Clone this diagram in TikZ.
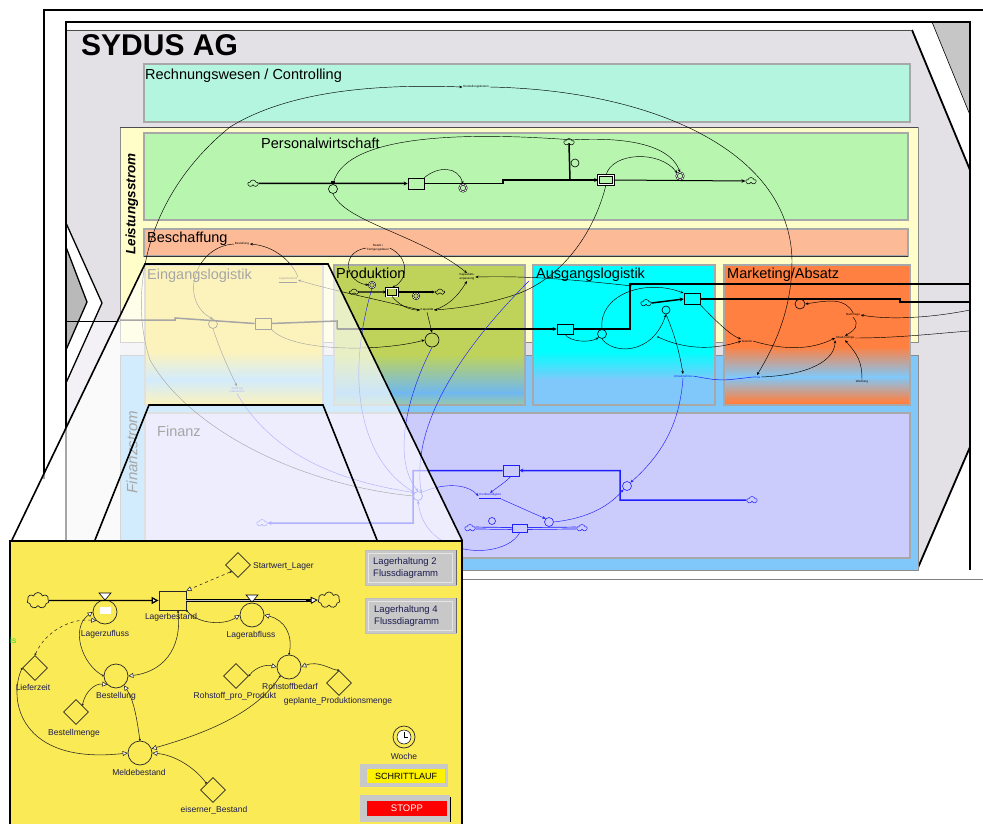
\documentclass[tikz,border=0pt]{standalone}
\usepackage{fontspec}
\setmainfont{Liberation Sans}
\usetikzlibrary{arrows.meta,shapes.geometric,shapes.symbols}
\definecolor{wallg}{HTML}{E4E1E6}
\definecolor{walll}{HTML}{F3F1F5}
\definecolor{rwc}{HTML}{B3F5DE}
\definecolor{lsc}{HTML}{FFFDC8}
\definecolor{pwc}{HTML}{B8F6B0}
\definecolor{bsc}{HTML}{FDBA96}
\definecolor{fsc}{HTML}{80C8FA}
\definecolor{fic}{HTML}{CCCCFC}
\definecolor{elc}{HTML}{F8DC40}
\definecolor{prc}{HTML}{BFD35A}
\definecolor{prb}{HTML}{70B8F0}
\definecolor{prg}{HTML}{98C8A8}
\definecolor{alc}{HTML}{00FFFF}
\definecolor{mkc}{HTML}{FF8040}
\definecolor{sdblue}{HTML}{1E1EFF}
\definecolor{ypan}{HTML}{FAEA55}
\definecolor{ytext}{HTML}{1C1C50}
\definecolor{btn}{HTML}{C8C8C8}
\definecolor{pborder}{HTML}{A8A8A8}
\definecolor{isgreen}{HTML}{20E040}
\begin{document}
\begin{tikzpicture}[x=1pt,y=-1pt,
  lbl/.style={font=\fontsize{14.5}{16}\selectfont, anchor=base west, inner sep=0pt},
  fl/.style={line width=1.5pt},
  flb/.style={line width=1.5pt, draw=sdblue},
  cn/.style={line width=0.45pt, -{Stealth[length=3.2pt,width=2.6pt]}},
  cnb/.style={cn, draw=sdblue},
  vl/.style={circle, draw, line width=0.6pt, minimum size=9pt, inner sep=0pt},
  sk/.style={rectangle, draw, line width=0.7pt, minimum width=16pt, minimum height=11pt, inner sep=0pt},
  cl/.style={cloud, cloud puffs=5, aspect=1.3, draw, line width=0.5pt, minimum width=10pt, minimum height=7pt, inner sep=0pt},
  tl/.style={font=\fontsize{3}{3.6}\selectfont, inner sep=0.6pt, align=center},
  ytx/.style={font=\fontsize{8.5}{10}\selectfont, text=ytext, inner sep=0pt},
  yvl/.style={circle, draw=black!85, line width=0.7pt, minimum size=24pt, inner sep=0pt},
  ydia/.style={diamond, draw=black!85, line width=0.7pt, minimum width=25pt, minimum height=25pt, inner sep=0pt},
  ycl/.style={cloud, cloud puffs=7, aspect=1.4, draw=black!85, line width=0.7pt, minimum width=22pt, minimum height=16pt, inner sep=0pt},
  yc/.style={line width=0.55pt, draw=black!85, {Circle[length=2pt]}-{Triangle[fill=white,length=5pt,width=5pt]}},
  btxt/.style={font=\fontsize{9.5}{12}\selectfont, text=ytext, inner sep=0pt, align=left, anchor=west}
]
\useasboundingbox (0,0) rectangle (983,824);
\fill[white] (0,0) rectangle (983,824);
% ---------- room ----------
\fill[wallg] (66,30) -- (912,30) -- (970,170) -- (970,447) -- (917,570) -- (66,570) -- cycle;
\fill[walll] (66,321) rectangle (120,570);
\fill[white] (66,223) -- (102,303) -- (66,383) -- cycle;
\fill[gray!55] (66,247) -- (87,302) -- (66,350) -- cycle;
\draw[line width=1.3pt] (66,223) -- (102,303) -- (66,383);
\draw[line width=1.3pt] (66,247) -- (87,302) -- (66,350);
\fill[gray!45] (932,22) -- (970,22) -- (970,115) -- cycle;
\draw[line width=0.6pt] (932,22) -- (970,115);
\draw[line width=1.8pt] (912,30) -- (970,170);
\draw[line width=1.8pt] (917,570) -- (970,447);
\draw[line width=0.7pt, black!70] (66,30) -- (912,30);
\draw[line width=1.8pt] (44,479) -- (44,10) -- (983,10);
\draw[line width=1.2pt] (66,540) -- (66,22) -- (970,22) -- (970,570);
\draw[line width=0.8pt, gray] (462,579) -- (983,579);
\draw[line width=0.8pt] (66,321) -- (120,321);
% ---------- title ----------
\node[font=\bfseries\fontsize{30}{32}\selectfont, anchor=west, inner sep=0pt] (title) at (81,45) {SYDUS AG};
% ---------- panels ----------
\draw[pborder, fill=rwc, line width=1.2pt] (144,64) rectangle (910,122);
\node[lbl] (rwl) at (145,80) {Rechnungswesen / Controlling};
\draw[black!45, fill=lsc, line width=0.8pt] (120,127) rectangle (918,342);
\draw[black!70, line width=0.8pt] (120,127) -- (918,127);
\draw[pborder, fill=pwc, line width=1.2pt] (144,133) rectangle (908,220);
\node[lbl] (pwl) at (261,149) {Personalwirtschaft};
\draw[pborder, fill=bsc, line width=1.2pt] (144,229) rectangle (908,256);
\draw[black!80, line width=0.8pt] (144,256) -- (908,256);
\node[lbl] (bsl) at (147,242) {Beschaffung};
\node[font=\bfseries\itshape\fontsize{13.5}{15}\selectfont, rotate=90, inner sep=0pt] (lsl) at (132,204) {Leistungsstrom};
\draw[black!45, fill=fsc, line width=0.8pt] (120,355) rectangle (918,570);
\draw[pborder, fill=fic, line width=1.5pt] (145,413) rectangle (910,558);
\node[lbl] (fil) at (157,436) {Finanz};
\node[font=\itshape\fontsize{15}{17}\selectfont, rotate=90, inner sep=0pt] (fsl) at (132,452) {Finanzstrom};
% Eingangslogistik
\fill[elc] (145,265) rectangle (323,352);
\shade[top color=elc, bottom color=fsc] (145,351.5) rectangle (323,380);
\shade[top color=fsc, bottom color=elc] (145,379.5) rectangle (323,405);
\draw[pborder, line width=1.2pt] (145,265) rectangle (323,405);
\node[lbl] (ell) at (147,279) {Eingangslogistik};
% Produktion
\fill[prc] (334,265) rectangle (525,355);
\shade[top color=prc, bottom color=prb] (334,354.5) rectangle (525,393);
\shade[top color=prb, bottom color=prg] (334,392.5) rectangle (525,405);
\draw[pborder, line width=1.2pt] (334,265) rectangle (525,405);
\node[lbl] (prl) at (336,278) {Produktion};
% Ausgangslogistik
\fill[alc] (533,265) rectangle (715,352);
\shade[top color=alc, bottom color=fsc] (533,351.5) rectangle (715,380);
\fill[fsc] (533,379.5) rectangle (715,405);
\draw[pborder, line width=1.2pt] (533,265) rectangle (715,405);
\node[lbl] (all) at (536,278) {Ausgangslogistik};
% Marketing
\fill[mkc] (724,265) rectangle (910,347);
\shade[top color=mkc, bottom color=fsc] (724,346.5) rectangle (910,377);
\shade[top color=fsc, bottom color=mkc] (724,376.5) rectangle (910,402);
\fill[mkc] (724,401.5) rectangle (910,405);
\draw[pborder, line width=1.2pt] (724,265) rectangle (910,405);
\node[lbl] (mkl) at (727,278) {Marketing/Absatz};
% ---------- Rechnungswesen ----------
\node[tl] (rw) at (476,87) {Herstellungskosten};
% ---------- Personalwirtschaft ----------
\node[cl] (pwc1) at (253,183.5) {};
\node[sk] (pws1) at (416,183.5) {};
\node[vl] (pwv1) at (333,189) {};
\fill (331,181.5) rectangle (335,184.5);
\node[vl, double, double distance=0.7pt, minimum size=7pt] (pwv2) at (463,188) {};
\node[cl] (pwc2) at (569,142) {};
\node[vl, minimum size=8pt] (pwv3) at (575,163) {};
\node[sk, double, double distance=1pt, minimum width=15pt, minimum height=9pt] (pws2) at (606,180) {};
\node[vl, double, double distance=0.7pt, minimum size=7pt] (pwv4) at (680,176) {};
\node[cl] (pwc3) at (751,181) {};
\draw[fl,-{Stealth[length=4pt,width=4pt]}] (pwc1.east) -- (pws1.west);
\draw[fl] (pws1.east) -- (503,183.5) -- (503,180) -- (570,180);
\draw[fl] (pwc2.south) -- (570,180);
\draw[fl,-{Stealth[length=4pt,width=4pt]}] (570,180) -- (pws2.west);
\draw[line width=1pt,-{Stealth[length=4pt,width=3.5pt]}] (pws2.east) -- (pwc3.west);
% ---------- Eingangslogistik ----------
\node[tl] (bes) at (242,244) {Bestellung};
\node[tl] (elab) at (288,280) {\underline{Lagerbestand}};
\node[sk] (els) at (263,323.5) {};
\node[vl] (elv) at (213,324) {};
\node[tl, text=sdblue] (zl) at (237,390) {Zahlung\\Lieferanten};
\draw[fl] (120,320) -- (175,320) -- (175,318) -- (els.west);
\draw[fl] (els.east) -- (337,321) -- (337,329);
% ---------- Produktion ----------
\node[tl] (bfd) at (378,248) {Bearb./\\Fertigungsdauer};
\node[cl, minimum width=9pt, minimum height=6pt] (prc1) at (354,292) {};
\node[vl, double, double distance=0.6pt, minimum size=6pt] (prv1) at (372,285) {};
\node[sk, double, double distance=0.8pt, minimum width=11pt, minimum height=8pt] (prs) at (392,292) {};
\node[vl, double, double distance=0.6pt, minimum size=6pt] (prv2) at (416,296) {};
\node[cl, minimum width=9pt, minimum height=6pt] (prc2) at (440,292) {};
\draw[line width=1.1pt,-{Stealth[length=3pt,width=3pt]}] (prc1.east) -- (prs.west);
\draw[line width=1.1pt,-{Stealth[length=3pt,width=3pt]}] (prs.east) -- (prc2.west);
\node[vl, minimum size=14pt] (prbig) at (432,340) {};
\node[tl] (kap) at (427,310) {Kapazität};
\node[tl] (kapanp) at (467,277) {Kapazitäts-\\anpassung};
% ---------- Ausgangslogistik / Marketing ----------
\node[sk, minimum height=10pt] (als1) at (565,329) {};
\node[vl] (alv1) at (602,334) {};
\node[cl] (alc1) at (646,303) {};
\node[vl, minimum size=8pt] (alv2) at (666,310) {};
\node[sk] (als2) at (692,299) {};
\node[vl, minimum size=10pt] (mkv) at (800,304) {};
\node[tl, text=sdblue] (ums) at (683,376) {Umsatzerlöse};
\node[tl, text=sdblue] (preis) at (757,377) {Preis};
\node[tl] (gew) at (747,341) {Gewinn};
\node[tl] (absm) at (845,338) {Absatzmenge};
\node[tl] (nach) at (853,315) {Nachfrage};
\node[tl] (werb) at (862,382) {Werbung};
\draw[fl,-{Stealth[length=4pt,width=4pt]}] (337,329) -- (als1.west);
\draw[fl] (als1.east) -- (630,329) -- (630,284) -- (970,284);
\draw[fl,-{Stealth[length=4pt,width=4pt]}] (alc1.east) -- (als2.west);
\draw[fl] (als2.east) -- (900,299) -- (900,302) -- (970,302);
% ---------- Finanz ----------
\node[vl, draw=sdblue] (fiv1) at (418,496) {};
\node[cl, draw=sdblue] (fic1) at (262,523) {};
\node[sk, draw=sdblue] (fis1) at (511,470.5) {};
\node[vl, draw=sdblue] (fiv2) at (627,486) {};
\node[cl, draw=sdblue] (fic2) at (752,500) {};
\node[cl, draw=sdblue] (fic3) at (470,528) {};
\node[vl, draw=sdblue, minimum size=7pt] (fiv3) at (492,521) {};
\node[sk, draw=sdblue, minimum width=15pt, minimum height=8pt] (fis2) at (519.5,528.5) {};
\node[vl, draw=sdblue] (fiv4) at (549,522) {};
\node[cl, draw=sdblue] (fic4) at (582,528) {};
\node[tl, text=sdblue] (kred) at (490,496) {\underline{Kreditwürdigkeit}};
\draw[flb,-{Stealth[length=4pt,width=4pt]}] (fic2.west) -- (620,500) -- (620,470.5) -- (fis1.east);
\draw[flb,-{Stealth[length=4pt,width=4pt]}] (fis1.west) -- (413,470.5) -- (413,523) -- (fic1.east);
\draw[sdblue, line width=0.7pt, double=fic, double distance=1.2pt] (fic3.east) -- (fis2.west);
\draw[sdblue, line width=0.7pt, double=fic, double distance=1.2pt] (fis2.east) -- (fic4.west);
% ---------- connectors (black) ----------
\draw[cn] (pwc2.north east) .. controls (440,130) and (345,140) .. (pwv1.north);
\draw[cn] (pwc2.north east) .. controls (640,136) and (672,150) .. (pwv4.north);
\draw[cn] (pws1.north east) .. controls (438,166) and (458,166) .. (pwv2.north);
\draw[cn] (pws2.north) .. controls (612,152) and (660,150) .. (pwv4.north west);
\draw[cn] (pwv1.south) .. controls (345,222) and (420,235) .. (kapanp.north);
\draw[cn] (pws2.south) .. controls (595,230) and (565,275) .. (520,293) .. controls (495,302) and (465,308) .. (kap.east);
\draw[cn] (rw.east) .. controls (650,90) and (790,150) .. (792,260) .. controls (792,310) and (775,345) .. (preis.north);
\draw[cn] (fiv1.west) .. controls (300,485) and (190,430) .. (150,360) .. controls (130,300) and (140,200) .. (230,127) .. controls (290,90) and (380,84) .. (rw.west);
\draw[cn] (elab.north east) .. controls (292,262) and (275,246) .. (bes.east);
\draw[cn] (bes.west) .. controls (195,246) and (178,300) .. (elv.north);
\draw[cn] (elv.south) .. controls (220,350) and (228,368) .. (zl.north);
\draw[cn] (els.south east) .. controls (292,352) and (380,352) .. (prbig.west);
\draw[cn] (bfd.west) .. controls (340,252) and (345,282) .. (prv1.west);
\draw[cn] (bfd.east) .. controls (410,258) and (408,280) .. (prs.north);
\draw[cn] (prs.south) .. controls (398,304) and (408,310) .. (kap.west);
\draw[cn] (kap.east) .. controls (448,306) and (458,296) .. (kapanp.south);
\draw[cn] (kap.south) -- (prbig.north);
\draw[cn] (kap.west) .. controls (380,300) and (330,290) .. (elab.east);
\coordinate (alsrc) at (632,286);
\draw[cn] (alsrc) .. controls (560,278) and (520,276) .. (kapanp.east);
\draw[cn] (als1.south) .. controls (570,342) and (590,343) .. (alv1.south west);
\draw[cn] (alv1.north) .. controls (598,295) and (645,278) .. (als2.north west);
\draw[cn] (alv1.south) .. controls (612,354) and (652,356) .. (alv2.south);
\draw[cn] (alv2.south) .. controls (675,335) and (680,355) .. (ums.north);
\coordinate (aldot) at (658,337);
\fill (aldot) circle (0.9);
\draw[cn] (aldot) .. controls (690,352) and (720,348) .. (gew.west);
\draw[cn] (als2.south east) .. controls (715,320) and (730,335) .. (gew.north west);
\draw[cn] (gew.east) .. controls (790,352) and (815,348) .. (absm.west);
\draw[cn] (nach.south) .. controls (860,325) and (855,330) .. (absm.north);
\draw[cn] (nach.north) .. controls (845,298) and (830,300) .. (mkv.east);
\draw[line width=0.45pt] (absm.east) .. controls (900,338) and (940,333) .. (970,331);
\coordinate (mkin) at (970,310);
\draw[cn] (mkin) .. controls (930,318) and (890,320) .. (nach.east);
\draw[cn] (preis.east) .. controls (810,375) and (835,360) .. (absm.south west);
\draw[cn] (werb.north) .. controls (862,362) and (858,355) .. (absm.south);
% ---------- connectors (blue) ----------
\draw[line width=0.5pt, sdblue] (ums.east) .. controls (720,381) .. (preis.west);
\draw[cnb] (ums.south) .. controls (680,420) and (665,452) .. (fiv2.north east);
\draw[cnb] (zl.south) .. controls (270,450) and (330,480) .. (fiv1.north west);
\draw[cnb] (prv1.south) .. controls (345,380) and (360,460) .. (fiv1.north west);
\draw[cnb] (prbig.south) .. controls (405,400) and (393,460) .. (fiv1.north);
\coordinate (blA) at (529,281);
\draw[cnb] (blA) .. controls (470,340) and (410,420) .. (fiv1.north east);
\draw[cnb] (fis2.south) .. controls (505,560) and (425,560) .. (fiv1.south);
\draw[cnb] (fiv1.north east) .. controls (440,484) and (465,482) .. (kred.west);
\draw[cnb] (fis1.south) .. controls (505,482) .. (kred.north);
\draw[cnb] (kred.south east) .. controls (515,505) and (530,512) .. (fiv4.north west);
\draw[cnb] (fiv4.east) .. controls (590,518) and (610,505) .. (fiv2.south west);
% ---------- magnifier cone ----------
\fill[white, opacity=0.65] (145,264) -- (328,264) -- (462,540) -- (12,540) -- cycle;
\draw[line width=1.6pt] (12,540) -- (145,264) -- (328,264) -- (462,540);
\draw[line width=1.6pt] (95,540) -- (149,405) -- (323,405) -- (377,540);
% ---------- yellow panel ----------
\fill[ypan] (10,541) rectangle (462,830);
\draw[line width=1.6pt] (10,830) -- (10,541) -- (462,541) -- (462,830);
\node[anchor=west, text=isgreen, font=\fontsize{8.5}{10}\selectfont, inner sep=0pt] (isx) at (10,640) {is};
\node[ycl] (yc1) at (38,600.5) {};
\node[rectangle, draw=black!85, line width=0.8pt, minimum width=27pt, minimum height=19pt, inner sep=0pt] (ys) at (172.5,600.5) {};
\node[yvl] (yv1) at (105,612) {};
\fill[white] (100,607) rectangle (111,614);
\draw[fill=white, line width=0.6pt] (99,593) -- (111,593) -- (105,600) -- cycle;
\node[yvl] (yv2) at (252,615) {};
\node[ycl] (yc2) at (329,600) {};
\draw[line width=1.3pt, -{Triangle[fill=white,length=7pt,width=7pt]}] (yc1.east) -- (ys.west);
\draw[line width=0.8pt, double=gray!45, double distance=1.6pt] (ys.east) -- (312,600.5);
\draw[line width=0.8pt, -{Triangle[fill=white,length=7pt,width=7pt]}] (306,600.5) -- (yc2.west);
\draw[fill=white, line width=0.6pt] (246,595) -- (258,595) -- (252,602) -- cycle;
\node[ydia] (ystart) at (238,565) {};
\node[yvl] (ybest) at (116,676) {};
\node[ydia] (ylief) at (35,668) {};
\node[ydia] (ybm) at (76,712) {};
\node[yvl] (ymb) at (140,753) {};
\node[ydia] (yeb) at (213,790) {};
\node[ydia] (yrpp) at (236,676) {};
\node[yvl] (yrb) at (289,667) {};
\node[ydia] (ygpm) at (339,683) {};
\node[ytx] (tzu) at (105,634) {Lagerzufluss};
\node[ytx] (tlb) at (171,617) {Lagerbestand};
\node[ytx] (tab) at (251,635) {Lagerabfluss};
\node[ytx, anchor=west] (tsw) at (253,566) {Startwert\_Lager};
\node[ytx] (tbe) at (116,696) {Bestellung};
\node[ytx] (tlz) at (33,687) {Lieferzeit};
\node[ytx] (tbm) at (74,733) {Bestellmenge};
\node[ytx] (tmb) at (139,772) {Meldebestand};
\node[ytx] (teb) at (214,810) {eiserner\_Bestand};
\node[ytx] (trp) at (235,696) {Rohstoff\_pro\_Produkt};
\node[ytx] (trb) at (290,686) {Rohstoffbedarf};
\node[ytx] (tgp) at (338,701) {geplante\_Produktionsmenge};
\draw[yc] (178,611) .. controls (182,650) and (162,672) .. (ybest.east);
\draw[yc] (ybest.west) .. controls (82,664) and (70,628) .. (yv1.west);
\draw[yc, dashed] (ylief.north) .. controls (45,632) and (70,618) .. (yv1.south west);
\draw[yc] (ybm.north east) .. controls (85,692) and (95,683) .. (ybest.south west);
\draw[yc] (ymb.north) .. controls (137,720) and (134,700) .. (ybest.-50);
\draw[yc] (ylief.west) .. controls (8,700) and (20,765) .. (ymb.west);
\draw[yc] (yeb.north west) .. controls (195,768) and (175,755) .. (ymb.east);
\draw[yc] (yrb.south west) .. controls (255,715) and (200,735) .. (ymb.20);
\draw[yc] (ys.south east) .. controls (200,625) and (225,625) .. (yv2.west);
\draw[yc] (yrb.north) .. controls (293,635) and (285,620) .. (yv2.east);
\draw[yc] (yrpp.east) .. controls (255,668) and (265,664) .. (yrb.west);
\draw[yc] (ygpm.north) .. controls (332,670) and (318,660) .. (yrb.east);
\draw[yc, dashed] (ystart.south west) -- (ys.north east);
% clock
\node[circle, draw=black!85, line width=0.7pt, minimum size=22pt, inner sep=0pt] (woche) at (404,737) {};
\draw[fill=white, line width=0.5pt] (woche.center) circle (7);
\draw[line width=0.6pt] (woche.center) -- ++(0,-5);
\draw[line width=0.6pt] (woche.center) -- ++(4,0);
\node[ytx] (two) at (404,756) {Woche};
% buttons
\node[fill=btn, draw=black!25, minimum width=91pt, minimum height=35pt, inner sep=0pt] (b1) at (410.5,567.5) {};
\draw[white!80!gray] (368,553) rectangle (452,582);
\draw[black!60, line width=1pt] (456,550) -- (456,585);
\node[btxt] (b1t) at (373,568) {Lagerhaltung 2\\Flussdiagramm};
\node[fill=btn, draw=black!25, minimum width=91pt, minimum height=35pt, inner sep=0pt] (b2) at (410.5,615.5) {};
\draw[white!80!gray] (368,601) rectangle (452,630);
\draw[black!60, line width=1pt] (456,598) -- (456,633);
\node[btxt] (b2t) at (374,616) {Lagerhaltung 4\\Flussdiagramm};
\node[fill=btn, minimum width=88pt, minimum height=23pt, inner sep=0pt] (b3) at (404,775.5) {};
\node[fill=yellow, minimum width=78pt, minimum height=14pt, inner sep=0pt, font=\fontsize{9}{10}\selectfont] (b3i) at (406,776) {SCHRITTLAUF};
\node[fill=btn, minimum width=90pt, minimum height=27pt, inner sep=0pt] (b4) at (405,808.5) {};
\node[fill=red, text=white, minimum width=80pt, minimum height=15pt, inner sep=0pt, font=\fontsize{9.5}{10}\selectfont] (b4i) at (407,808) {STOPP};
\draw[line width=1pt] (450,797) -- (450,822);
\end{tikzpicture}
\end{document}
